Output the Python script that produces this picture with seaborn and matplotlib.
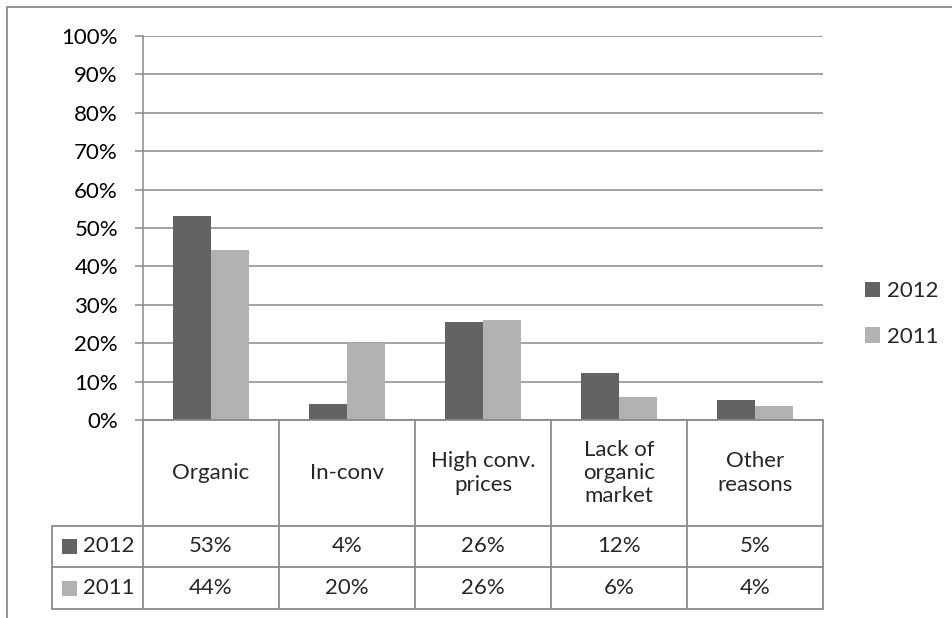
import matplotlib
matplotlib.use("Agg")
import matplotlib.pyplot as plt
import seaborn as sns
import pandas as pd
from matplotlib.patches import Rectangle
from matplotlib.lines import Line2D

# Reasons for choosing organic, share of respondents
categories = ["Organic", "In-conv", "High conv.\nprices", "Lack of\norganic\nmarket", "Other\nreasons"]
years = ["2012", "2011"]
values_2012 = [0.531, 0.042, 0.256, 0.122, 0.051]
values_2011 = [0.442, 0.201, 0.260, 0.060, 0.036]
y_ticks = [0.0, 0.1, 0.2, 0.3, 0.4, 0.5, 0.6, 0.7, 0.8, 0.9, 1.0]

colors = {"2012": "#636363", "2011": "#b2b2b2"}
line_gray = "#8a8a8a"
font = ["Lato", "DejaVu Sans"]
fs = 16

sns.set_theme(style="white")
plt.rcParams["font.family"] = font

df = pd.DataFrame({
    "category": categories * 2,
    "year": [years[0]] * len(categories) + [years[1]] * len(categories),
    "value": values_2012 + values_2011,
})

W, H = 953, 618
fig = plt.figure(figsize=(W / 100, H / 100), dpi=100)
ax = fig.add_axes([143 / W, 1 - 420 / H, 680 / W, 384 / H])

sns.barplot(data=df, x="category", y="value", hue="year", hue_order=years,
            order=categories, palette=colors, width=0.566, gap=0,
            saturation=1, edgecolor="none", linewidth=0, ax=ax, zorder=3)

ax.set_xlim(-0.5, len(categories) - 0.5)
ax.set_ylim(0, 1.0)
ax.set_yticks(y_ticks)
ax.set_yticklabels([f"{t:.0%}" for t in y_ticks], fontsize=fs, color="black")
ax.set_xticks([])
ax.set_xlabel("")
ax.set_ylabel("")
ax.tick_params(axis="y", direction="out", length=6, width=1.1, color=line_gray,
               pad=12, left=True)
ax.yaxis.grid(True, color=line_gray, linewidth=1.1, zorder=0)
ax.set_axisbelow(True)
for side in ("top", "right", "bottom"):
    ax.spines[side].set_visible(False)
ax.spines["left"].set_color(line_gray)
ax.spines["left"].set_linewidth(1.1)

# Legend to the right of the plot
handles, labels = ax.get_legend_handles_labels()
ax.legend(handles, labels, loc="center left", bbox_to_anchor=((865 - 143) / 680, (420 - 314) / 384),
          frameon=False, fontsize=fs, handlelength=0.68, handleheight=0.68,
          handletextpad=0.3, labelspacing=1.15, borderpad=0, borderaxespad=0)

# Data table under the plot (axes-fraction coordinates)
tr = ax.transAxes
hdr_bot = (420 - 526) / 384
row1_bot = (420 - 567) / 384
row2_bot = (420 - 609) / 384
left_col = (52 - 143) / 680
n = len(categories)
lw = 1.3


def seg(x0, x1, y0, y1):
    ax.add_line(Line2D([x0, x1], [y0, y1], transform=tr, color=line_gray,
                       linewidth=lw, clip_on=False, zorder=4))


seg(0, 0, 0, row2_bot)
for k in range(1, n + 1):
    seg(k / n, k / n, 0, row2_bot)
seg(0, 1, 0, 0)
seg(left_col, left_col, hdr_bot, row2_bot)
for yb in (hdr_bot, row1_bot, row2_bot):
    seg(left_col, 1, yb, yb)

for i, cat in enumerate(categories):
    xc = (i + 0.5) / n
    ax.text(xc, hdr_bot / 2, cat, transform=tr, ha="center", va="center",
            fontsize=fs, linespacing=1.2, clip_on=False)
    ax.text(xc, (hdr_bot + row1_bot) / 2, f"{values_2012[i]:.0%}", transform=tr,
            ha="center", va="center", fontsize=fs, clip_on=False)
    ax.text(xc, (row1_bot + row2_bot) / 2, f"{values_2011[i]:.0%}", transform=tr,
            ha="center", va="center", fontsize=fs, clip_on=False)

# Row headers with series keys
for yr, y0, y1 in ((years[0], hdr_bot, row1_bot), (years[1], row1_bot, row2_bot)):
    yc = (y0 + y1) / 2
    sq_w = 15 / 680
    sq_h = 15 / 384
    ax.add_patch(Rectangle(((62 - 143) / 680, yc - sq_h / 2), sq_w, sq_h, transform=tr,
                           facecolor=colors[yr], edgecolor="none", clip_on=False, zorder=4))
    ax.text((83 - 143) / 680, yc, yr, transform=tr, ha="left", va="center",
            fontsize=fs, clip_on=False)

# Chart frame (top and left edges)
fig.add_artist(Line2D([7 / W, 1], [1 - 7 / H, 1 - 7 / H], transform=fig.transFigure,
                      color=line_gray, linewidth=1.3))
fig.add_artist(Line2D([7 / W, 7 / W], [0, 1 - 7 / H], transform=fig.transFigure,
                      color=line_gray, linewidth=1.3))

fig.savefig("out.png", dpi=100)
